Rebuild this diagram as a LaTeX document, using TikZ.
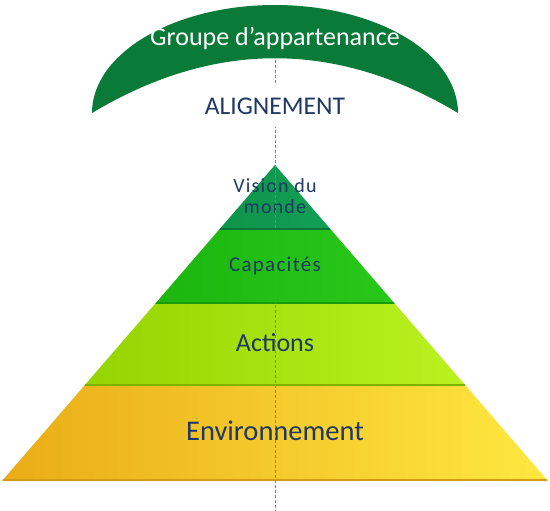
\documentclass[tikz,border=0pt]{standalone}
\usepackage{fontspec}
\setmainfont{Carlito}
\definecolor{arcgreen}{RGB}{10,122,56}
\definecolor{textblue}{RGB}{31,56,100}
\definecolor{visionL}{RGB}{14,148,72}
\definecolor{visionR}{RGB}{18,160,86}
\definecolor{capL}{RGB}{28,182,14}
\definecolor{capR}{RGB}{40,200,26}
\definecolor{actL}{RGB}{148,212,0}
\definecolor{actR}{RGB}{186,242,32}
\definecolor{envL}{RGB}{234,172,24}
\definecolor{envR}{RGB}{255,232,64}
\begin{document}
\begin{tikzpicture}[x=1pt,y=-1pt,
  layertext/.style={text=textblue,inner sep=0pt},
  band/.style={line width=2pt},
  guide/.style={gray,line width=0.6pt,dash pattern=on 3pt off 2pt}]
\useasboundingbox (0,0) rectangle (550,511);
\fill[arcgreen] (92,113) arc (180:360:183 and 108)
  .. controls (336,40) and (214,40) .. (92,113) -- cycle;
\node[text=white,anchor=base,inner sep=0pt,font=\fontsize{26}{31}\selectfont] (groupe) at (275,46) {Groupe d’appartenance};
\shade[left color=visionL,right color=visionR] (275,165) -- (331.2,230) -- (218.8,230) -- cycle;
\shade[left color=capL,right color=capR] (218.8,230) -- (331.2,230) -- (395.1,304) -- (154.9,304) -- cycle;
\shade[left color=actL,right color=actR] (154.9,304) -- (395.1,304) -- (466,386) -- (84,386) -- cycle;
\shade[left color=envL,right color=envR] (84,386) -- (466,386) -- (548,481) -- (2,481) -- cycle;
\draw[band,color=visionL!80!black] (219.7,229) -- (330.3,229);
\draw[band,color=capL!85!black] (155.8,303) -- (394.2,303);
\draw[band,color=actL!85!black] (84.9,385) -- (465.1,385);
\draw[band,color=envL!90!black] (2.8,480) -- (547.2,480);
\node[layertext,align=center,font=\fontsize{20}{21.5}\selectfont\addfontfeature{LetterSpace=6}] (vision) at (275,196) {Vision du\\monde};
\node[layertext,anchor=base,font=\fontsize{21}{25}\selectfont\addfontfeature{LetterSpace=6}] (capacites) at (275,271) {Capacités};
\node[layertext,anchor=base,font=\fontsize{26}{31}\selectfont] (actions) at (275,351) {Actions};
\node[layertext,anchor=base,font=\fontsize{28.5}{34}\selectfont] (environnement) at (275,440) {Environnement};
\coordinate (guidetop) at (275,60);
\coordinate (guidebottom) at (275,511);
\draw[guide] (guidetop) -- (guidebottom);
\node[fill=white,text=textblue,minimum width=164pt,minimum height=42pt,font=\fontsize{25.5}{30}\selectfont] (alignement) at (275,106) {ALIGNEMENT};
\end{tikzpicture}
\end{document}
